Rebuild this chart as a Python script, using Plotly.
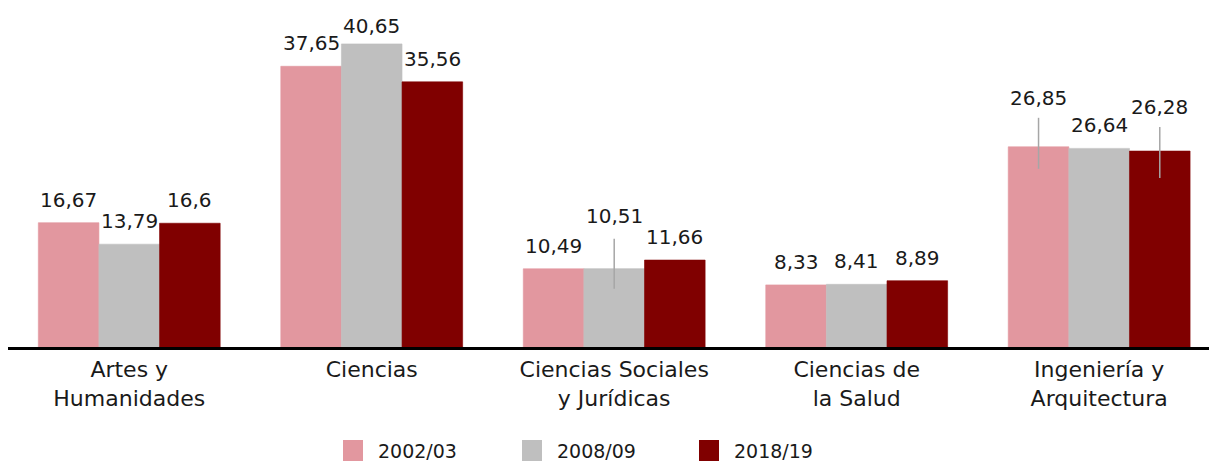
import plotly.graph_objects as go

# Data
categories = ["Artes y<br>Humanidades", "Ciencias", "Ciencias Sociales<br>y Jurídicas",
              "Ciencias de<br>la Salud", "Ingeniería y<br>Arquitectura"]
series_names = ["2002/03", "2008/09", "2018/19"]
values_2002 = [16.67, 37.65, 10.49, 8.33, 26.85]
values_2008 = [13.79, 40.65, 10.51, 8.41, 26.64]
values_2018 = [16.6, 35.56, 11.66, 8.89, 26.28]

series_values = [values_2002, values_2008, values_2018]
colors = ["#E2979F", "#BFBFBF", "#800000"]

W, H = 1209, 462
L, R, T, B = 8, 0, 5, 115
FONT = "DejaVu Sans"
TEXT_COLOR = "#1a1a1a"

fig = go.Figure()
x_idx = list(range(len(categories)))
for name, vals, col in zip(series_names, series_values, colors):
    fig.add_trace(go.Bar(x=x_idx, y=vals, name=name,
                         marker=dict(color=col, line=dict(color=col, width=0.6)),
                         showlegend=False))

# Value labels above bars (some raised with leader lines)
offsets = [-0.25, 0.0, 0.25]
default_shift = 23
raised = {(1, 2): 53, (0, 4): 48.5, (2, 4): 44.5, (1, 1): 18}
leaders = {(1, 2): (-20, 30), (0, 4): (-22, 29), (2, 4): (-27, 24)}

annotations = []
shapes = []
for s, vals in enumerate(series_values):
    for i, v in enumerate(vals):
        annotations.append(dict(
            x=i + offsets[s], y=v, xref="x", yref="y",
            text=f"{v:g}".replace(".", ","), showarrow=False,
            yanchor="middle", yshift=raised.get((s, i), default_shift),
            font=dict(family=FONT, size=20, color=TEXT_COLOR)))
        if (s, i) in leaders:
            lo, hi = leaders[(s, i)]
            shapes.append(dict(type="line", xref="x", yref="y", ysizemode="pixel",
                               yanchor=v, x0=i + offsets[s], x1=i + offsets[s],
                               y0=lo, y1=hi, line=dict(color="#A6A6A6", width=1.5)))

# Custom legend below the axis
pw, ph = W - L - R, H - T - B
def px_x(p):
    return (p - L) / pw
def px_y(p):
    return (H - B - p) / ph

legend_left = [343, 522, 699]
for name, col, x0 in zip(series_names, colors, legend_left):
    shapes.append(dict(type="rect", xref="paper", yref="paper",
                       x0=px_x(x0), x1=px_x(x0 + 20), y0=px_y(461), y1=px_y(440),
                       fillcolor=col, line=dict(width=0)))
    annotations.append(dict(x=px_x(x0 + 33), y=px_y(451), xref="paper", yref="paper",
                            text=name, showarrow=False, xanchor="left", yanchor="middle",
                            font=dict(family=FONT, size=19, color=TEXT_COLOR)))

fig.update_layout(
    width=W, height=H,
    margin=dict(l=L, r=R, t=T, b=B),
    paper_bgcolor="white", plot_bgcolor="white",
    barmode="group", bargap=0.25, bargroupgap=0,
    xaxis=dict(range=[-0.5, 4.453], tickvals=x_idx, ticktext=categories,
               showline=True, linecolor="black", linewidth=3, showgrid=False,
               zeroline=False, ticks="", ticklabelstandoff=1,
               tickfont=dict(family=FONT, size=22, color=TEXT_COLOR)),
    yaxis=dict(range=[0, 45.87], visible=False, showgrid=False, zeroline=False),
    annotations=annotations, shapes=shapes,
)

fig.write_html("out.html")
